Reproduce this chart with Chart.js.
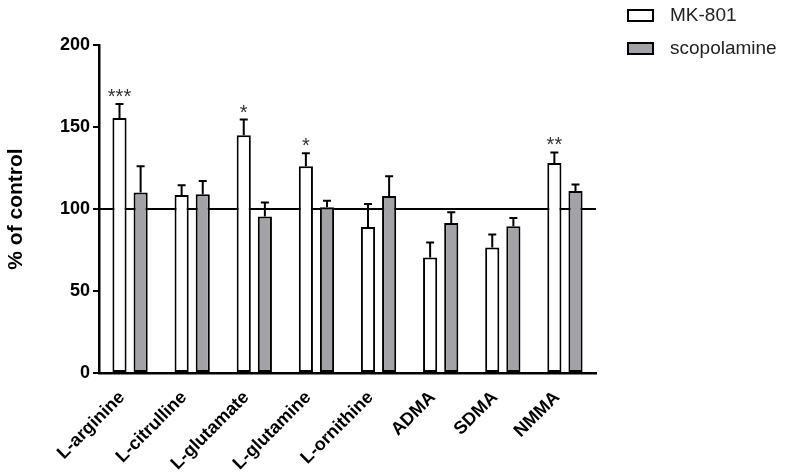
<!DOCTYPE html>
<html>
<head>
<meta charset="utf-8">
<script src="https://cdn.jsdelivr.net/npm/chart.js@4.4.1/dist/chart.umd.min.js"></script>
<style>
  html, body { margin: 0; padding: 0; background: #fff; }
  #wrap { width: 787px; height: 475px; }
</style>
</head>
<body>
<div id="wrap"><canvas id="myChart" width="787" height="475"></canvas></div>
<script>
const categories = ['L-arginine', 'L-citrulline', 'L-glutamate', 'L-glutamine', 'L-ornithine', 'ADMA', 'SDMA', 'NMMA'];
const mk801 = [155.5, 108.5, 145, 126, 89, 70.5, 76.5, 128];
const mk801Err = [8.5, 6, 9.5, 8, 14, 9, 8, 6.5];
const scopolamine = [110, 109, 95.5, 101, 108, 91.5, 89.5, 111];
const scopolamineErr = [16, 8, 8.5, 4, 12, 6.5, 5, 4];
const mk801Stars = ['***', '', '*', '*', '', '', '', '**'];
const yTicks = [0, 50, 100, 150, 200];
const controlLevel = 100;

const FONT = '"Liberation Sans", Arial, Helvetica, sans-serif';

// reference line at 100 %, behind the bars
const controlLine = {
    id: 'controlLine',
    beforeDatasetsDraw(chart) {
        const { ctx, chartArea, scales } = chart;
        const y = scales.y.getPixelForValue(controlLevel);
        ctx.save();
        ctx.strokeStyle = '#000';
        ctx.lineWidth = 2;
        ctx.beginPath();
        ctx.moveTo(chartArea.left, y);
        ctx.lineTo(chartArea.right, y);
        ctx.stroke();
        ctx.restore();
    }
};

// upper error bars + significance stars
const errorBars = {
    id: 'errorBars',
    afterDatasetsDraw(chart) {
        const { ctx, scales } = chart;
        ctx.save();
        chart.data.datasets.forEach((ds, i) => {
            const meta = chart.getDatasetMeta(i);
            meta.data.forEach((bar, j) => {
                const top = scales.y.getPixelForValue(ds.data[j] + ds.errors[j]);
                ctx.strokeStyle = '#000';
                ctx.lineWidth = 2;
                ctx.beginPath();
                ctx.moveTo(bar.x, bar.y);
                ctx.lineTo(bar.x, top);
                ctx.moveTo(bar.x - 4, top);
                ctx.lineTo(bar.x + 4, top);
                ctx.stroke();
                if (ds.stars && ds.stars[j]) {
                    ctx.fillStyle = '#333';
                    ctx.font = '20px ' + FONT;
                    ctx.textAlign = 'center';
                    ctx.textBaseline = 'alphabetic';
                    ctx.fillText(ds.stars[j], bar.x, top - 1);
                }
            });
        });
        ctx.restore();
    }
};

// legend in the top right corner
const cornerLegend = {
    id: 'cornerLegend',
    afterDraw(chart) {
        const { ctx } = chart;
        ctx.save();
        chart.data.datasets.forEach((ds, i) => {
            const y = 10 + i * 33;
            ctx.fillStyle = ds.backgroundColor;
            ctx.fillRect(628, y, 25, 11);
            ctx.strokeStyle = '#000';
            ctx.lineWidth = 2;
            ctx.strokeRect(628, y, 25, 11);
            ctx.fillStyle = '#222';
            ctx.font = '19px ' + FONT;
            ctx.textAlign = 'left';
            ctx.textBaseline = 'middle';
            ctx.fillText(ds.label, 670, y + 6);
        });
        ctx.restore();
    }
};

const ctx = document.getElementById('myChart').getContext('2d');
new Chart(ctx, {
    type: 'bar',
    data: {
        labels: categories,
        datasets: [{
            label: 'MK-801',
            data: mk801,
            errors: mk801Err,
            stars: mk801Stars,
            backgroundColor: '#ffffff',
            borderColor: '#000000',
            borderWidth: 2,
            borderSkipped: false,
            barPercentage: 0.67,
            categoryPercentage: 0.68
        }, {
            label: 'scopolamine',
            data: scopolamine,
            errors: scopolamineErr,
            backgroundColor: '#a3a3a7',
            borderColor: '#000000',
            borderWidth: 2,
            borderSkipped: false,
            barPercentage: 0.67,
            categoryPercentage: 0.68
        }]
    },
    options: {
        responsive: false,
        animation: false,
        layout: { padding: { top: 45, right: 191, bottom: 0, left: 0 } },
        plugins: {
            legend: { display: false },
            tooltip: { enabled: false }
        },
        scales: {
            x: {
                grid: { display: false },
                border: { color: '#000', width: 2.5 },
                ticks: {
                    color: '#000',
                    font: { family: FONT, size: 18, weight: 'bold' },
                    minRotation: 45,
                    maxRotation: 45,
                    labelOffset: -8,
                    padding: 6
                },
                afterFit(scale) { scale.height = 102; }
            },
            y: {
                min: 0,
                max: 200,
                afterBuildTicks(scale) { scale.ticks = yTicks.map(v => ({ value: v })); },
                grid: { drawOnChartArea: false, drawTicks: true, tickLength: 6, color: '#000', lineWidth: 2 },
                border: { color: '#000', width: 2.5 },
                ticks: {
                    color: '#000',
                    padding: 3,
                    font: { family: FONT, size: 18, weight: 'bold' }
                },
                title: {
                    display: true,
                    text: '% of control',
                    color: '#000',
                    font: { family: FONT, size: 21, weight: 'bold' },
                    padding: { top: 4, bottom: 4 }
                },
                afterFit(scale) { scale.width = 99; }
            }
        }
    },
    plugins: [controlLine, errorBars, cornerLegend]
});
</script>
</body>
</html>
